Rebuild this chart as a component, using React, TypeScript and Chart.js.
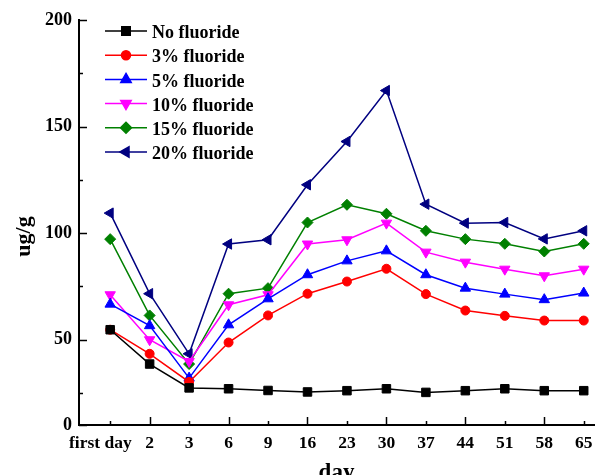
import React, { useEffect, useRef } from "react";
import { Chart, registerables } from "chart.js";
import { drawPoint } from "chart.js/helpers";

Chart.register(...registerables);

// ---- data ----
const days = ["first day", "2", "3", "6", "9", "16", "23", "30", "37", "44", "51", "58", "65"];
const noFluoride = [54.7, 38.6, 27.4, 27.0, 26.2, 25.5, 26.1, 27.0, 25.3, 26.1, 27.0, 26.1, 26.1];
const fluoride3 = [54.7, 43.4, 30.2, 48.7, 61.4, 71.6, 77.3, 83.3, 71.4, 63.7, 61.2, 59.0, 59.0];
const fluoride5 = [66.7, 56.6, 32.0, 57.0, 69.2, 80.5, 87.0, 91.7, 80.5, 74.2, 71.4, 68.8, 71.9];
const fluoride10 = [71.1, 50.0, 39.8, 66.4, 71.1, 94.9, 96.9, 104.7, 91.1, 86.4, 83.1, 80.0, 83.1];
const fluoride15 = [97.2, 61.4, 38.6, 71.6, 74.2, 105.0, 113.3, 109.1, 101.1, 97.2, 95.0, 91.4, 95.0];
const fluoride20 = [109.4, 71.6, 43.4, 94.9, 96.9, 122.7, 143.0, 166.9, 113.6, 104.7, 105.0, 97.3, 101.1];
const seriesNames = ["No fluoride", "3% fluoride", "5% fluoride", "10% fluoride", "15% fluoride", "20% fluoride"];
const seriesValues = [noFluoride, fluoride3, fluoride5, fluoride10, fluoride15, fluoride20];

// axis: bottom of the axis is labelled "0"
const yAxisMin = 10;
const yAxisMax = 200;
const yTickValues = [10, 50, 100, 150, 200];
const yTickLabels = ["0", "50", "100", "150", "200"];
const yMinorTicks = [25, 75, 125, 175];
const yTitle = "ug/g";
const xTitle = "day";

// ---- styles ----
const colors = ["#000000", "#ff0000", "#0000ff", "#ff00ff", "#008000", "#000080"];
const pointStyles = ["rect", "circle", "triangle", "triangle", "rectRot", "triangle"];
const pointRotations = [0, 0, 0, 180, 0, 270];
const pointRadii = [6, 4.5, 6, 6, 5.5, 6];
const FONT = "'Liberation Serif', 'Times New Roman', serif";

const legendPlugin = {
  id: "insideLegend",
  afterDraw(chart: any) {
    const ctx = chart.ctx;
    ctx.save();
    seriesNames.forEach((name, i) => {
      const y = 31 + 24.2 * i;
      ctx.strokeStyle = colors[i];
      ctx.fillStyle = colors[i];
      ctx.lineWidth = 1.5;
      ctx.beginPath();
      ctx.moveTo(105, y);
      ctx.lineTo(147, y);
      ctx.stroke();
      drawPoint(ctx, { pointStyle: pointStyles[i], rotation: pointRotations[i], radius: pointRadii[i], borderWidth: 1 } as any, 126, y);
      ctx.fillStyle = "#000";
      ctx.font = `bold 18px ${FONT}`;
      ctx.textBaseline = "middle";
      ctx.textAlign = "left";
      ctx.fillText(name, 152, y + 2.5);
    });
    // y-axis title
    const area = chart.chartArea;
    ctx.save();
    ctx.translate(24, area.top + (area.bottom - area.top) / 2 + 14);
    ctx.rotate(-Math.PI / 2);
    ctx.font = `bold 22px ${FONT}`;
    ctx.textAlign = "center";
    ctx.textBaseline = "middle";
    ctx.fillStyle = "#000";
    ctx.fillText(yTitle, 0, 0);
    ctx.restore();
    ctx.restore();
  },
};

const tickMarkPlugin = {
  id: "innerTicks",
  afterDraw(chart: any) {
    const ctx = chart.ctx;
    const xs = chart.scales.x;
    const ys = chart.scales.y;
    const area = chart.chartArea;
    ctx.save();
    ctx.strokeStyle = "#000";
    ctx.lineWidth = 1.5;
    days.forEach((_, i) => {
      const px = Math.round(xs.getPixelForValue(i)) + 0.5;
      const len = i % 2 === 1 ? 8 : 4;
      ctx.beginPath();
      ctx.moveTo(px, area.bottom);
      ctx.lineTo(px, area.bottom - len);
      ctx.stroke();
    });
    const ticks = [...yTickValues.map((v) => [v, 8]), ...yMinorTicks.map((v) => [v, 4])];
    ticks.forEach(([v, len]) => {
      const py = Math.round(ys.getPixelForValue(v)) + 0.5;
      ctx.beginPath();
      ctx.moveTo(area.left, py);
      ctx.lineTo(area.left + len, py);
      ctx.stroke();
    });
    ctx.restore();
  },
};

export default function App() {
  const ref = useRef<HTMLCanvasElement>(null);
  useEffect(() => {
    const datasets = seriesNames.map((name, i) => ({
      label: name,
      data: seriesValues[i].map((v, j) => ({ x: j, y: v })),
      borderColor: colors[i],
      backgroundColor: colors[i],
      pointBackgroundColor: colors[i],
      pointBorderColor: colors[i],
      pointBorderWidth: 1,
      pointStyle: pointStyles[i],
      pointRotation: pointRotations[i],
      pointRadius: pointRadii[i],
      borderWidth: 1.5,
      tension: 0,
      fill: false,
    }));
    const chart = new Chart(ref.current!, {
      type: "line",
      data: { datasets },
      options: {
        animation: false,
        responsive: false,
        maintainAspectRatio: false,
        layout: { padding: { top: 20, right: 0, left: 0, bottom: 0 } },
        plugins: { legend: { display: false }, tooltip: { enabled: false } },
        scales: {
          x: {
            type: "linear",
            min: -0.79,
            max: 12.26,
            afterBuildTicks: (scale: any) => {
              // the long first label sits a little left of its tick
              scale.ticks = days.map((_, i) => ({ value: i === 0 ? -0.25 : i }));
            },
            afterFit: (scale: any) => {
              scale.height = 50;
            },
            ticks: {
              autoSkip: false,
              maxRotation: 0,
              padding: 8,
              color: "#000",
              font: { family: FONT, size: 17.5, weight: "bold" },
              callback: (v: any) => days[Math.max(0, Math.round(v))] ?? "",
            },
            grid: { display: true, drawOnChartArea: false, drawTicks: false },
            border: { display: true, color: "#000", width: 2 },
            title: {
              display: true,
              text: xTitle,
              color: "#000",
              font: { family: FONT, size: 23, weight: "bold", lineHeight: 1 },
              padding: { top: 0, bottom: -10 },
            },
          },
          y: {
            type: "linear",
            min: yAxisMin,
            max: yAxisMax,
            afterBuildTicks: (scale: any) => {
              scale.ticks = yTickValues.map((v) => ({ value: v }));
            },
            afterFit: (scale: any) => {
              scale.width = 79;
            },
            ticks: {
              padding: 7,
              color: "#000",
              font: { family: FONT, size: 18, weight: "bold" },
              callback: (v: any) => {
                const k = yTickValues.indexOf(v);
                return k >= 0 ? yTickLabels[k] : "";
              },
            },
            grid: { display: true, drawOnChartArea: false, drawTicks: false },
            border: { display: true, color: "#000", width: 2 },
            title: { display: false },
          },
        },
      } as any,
      plugins: [tickMarkPlugin, legendPlugin],
    });
    return () => chart.destroy();
  }, []);
  return (
    <div style={{ position: "fixed", left: 0, top: 0, width: 601, height: 475, background: "#fff" }}>
      <canvas ref={ref} width={601} height={475} style={{ display: "block", width: 601, height: 475 }} />
    </div>
  );
}
